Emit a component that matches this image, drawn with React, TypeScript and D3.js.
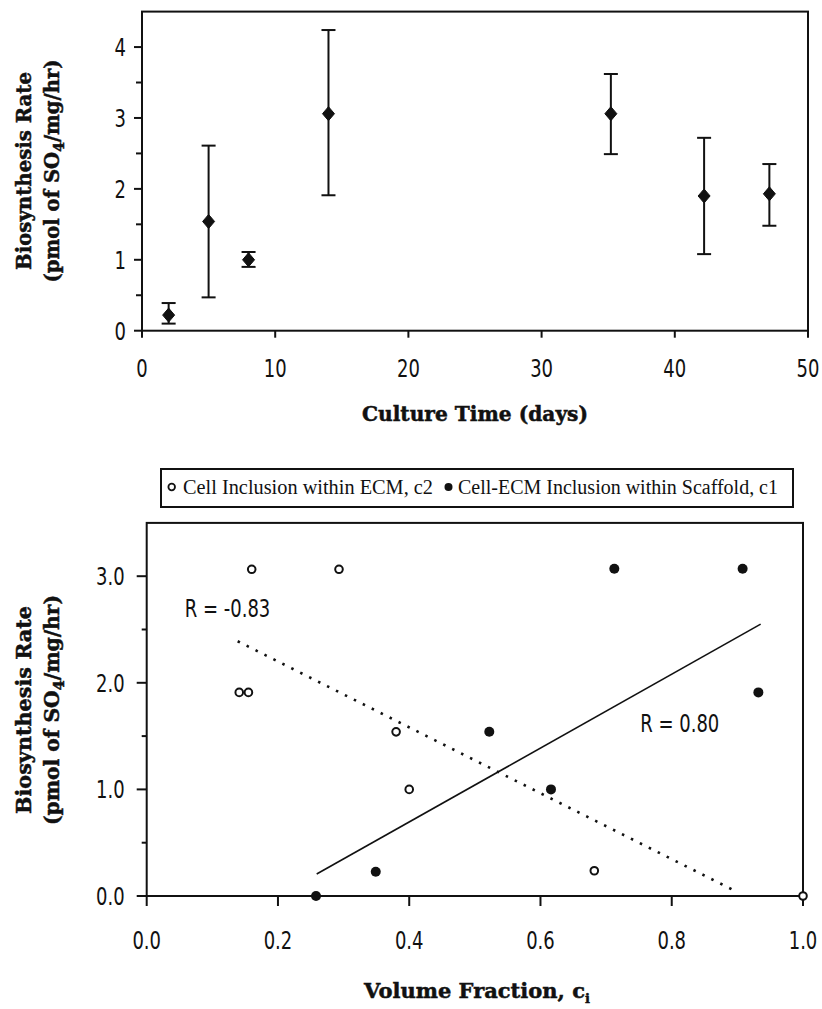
import React from "react";
import * as d3 from "d3";

// top panel: rate over culture time, mean with error bars
const cultureDays = [2, 5, 8, 14, 35.2, 42.2, 47.1];
const rateMean = [0.22, 1.54, 1.0, 3.06, 3.06, 1.9, 1.93];
const rateLow = [0.1, 0.47, 0.9, 1.91, 2.49, 1.08, 1.48];
const rateHigh = [0.39, 2.61, 1.11, 4.24, 3.62, 2.72, 2.35];
const dayTicks = [0, 10, 20, 30, 40, 50];
const rateTicks = [0, 1, 2, 3, 4];

// bottom panel: rate vs volume fraction
const ecmFraction = [0.141, 0.155, 0.16, 0.293, 0.38, 0.4, 0.682, 1.0];
const ecmRate = [1.91, 1.91, 3.065, 3.065, 1.54, 1.0, 0.237, 0];
const scaffoldFraction = [0.258, 0.349, 0.522, 0.616, 0.7125, 0.908, 0.932];
const scaffoldRate = [0, 0.228, 1.54, 1.0, 3.07, 3.07, 1.91];
const ecmFitX = [0.1386, 0.899];
const ecmFitY = [2.39, 0.04];
const scaffoldFitX = [0.259, 0.9355];
const scaffoldFitY = [0.206, 2.55];
const fractionTicks = [0, 0.2, 0.4, 0.6, 0.8, 1.0];
const rate2Ticks = [0, 1, 2, 3];
const legendLabels = ["Cell Inclusion within ECM, c2", "Cell-ECM Inclusion within Scaffold, c1"];
const rLabels = ["R = -0.83", "R = 0.80"];

const tickFont = "'DejaVu Sans', 'Liberation Sans', sans-serif";
const titleFont = "'DejaVu Serif', 'Liberation Serif', serif";
const legendFont = "'Liberation Serif', 'DejaVu Serif', serif";

// narrow text: the original uses a condensed face, so squeeze horizontally
const Narrow = ({ x, y, anchor, children }: { x: number; y: number; anchor?: string; children: React.ReactNode }) => (
  <g transform={`translate(${x},${y}) scale(0.72,1)`}>
    <text x={0} y={0} dy="0.36em" textAnchor={anchor || "middle"} fontFamily={tickFont} fontSize={25} fill="#111">{children}</text>
  </g>
);

const YTitle = ({ cx, cy, len1, len2 }: { cx: number; cy: number; len1: number; len2: number }) => (
  <g transform={`translate(${cx},${cy}) rotate(-90)`} fontFamily={titleFont} fontWeight="bold" fontSize={21} textAnchor="middle" fill="#111" stroke="#111" strokeWidth={0.5}>
    <text x={0} y={-9} textLength={len1} lengthAdjust="spacingAndGlyphs">Biosynthesis Rate</text>
    <text x={0} y={19} textLength={len2} lengthAdjust="spacingAndGlyphs">
      (pmol of SO<tspan fontSize={15} dy={5}>4</tspan><tspan dy={-5}>/mg/hr)</tspan>
    </text>
  </g>
);

const TopChart = () => {
  const x = d3.scaleLinear().domain([0, 50]).range([142, 808]);
  const y = d3.scaleLinear().domain([0, 4.5]).range([330.7, 11.6]);
  const minor = d3.range(0.5, 4.5, 1);
  return (
    <g>
      <rect x={x(0)} y={y(4.5)} width={x(50) - x(0)} height={y(0) - y(4.5)} fill="none" stroke="#111" strokeWidth={2} />
      {rateTicks.map((t) => (
        <g key={"yt" + t}>
          <line x1={x(0) - 8} x2={x(0)} y1={y(t)} y2={y(t)} stroke="#111" strokeWidth={2} />
          <Narrow x={x(0) - 16} y={y(t)} anchor="end">{t}</Narrow>
        </g>
      ))}
      {minor.map((t) => (
        <line key={"ym" + t} x1={x(0) - 6} x2={x(0)} y1={y(t)} y2={y(t)} stroke="#111" strokeWidth={2} />
      ))}
      {dayTicks.map((t) => (
        <g key={"xt" + t}>
          <line x1={x(t)} x2={x(t)} y1={y(0)} y2={y(0) + 7} stroke="#111" strokeWidth={2} />
          <Narrow x={x(t)} y={y(0) + 37}>{t}</Narrow>
        </g>
      ))}
      {cultureDays.map((d, i) => {
        const cx = x(d);
        const cy = y(rateMean[i]);
        return (
          <g key={"p" + i} stroke="#111" strokeWidth={2}>
            <line x1={cx} x2={cx} y1={y(rateLow[i])} y2={y(rateHigh[i])} />
            <line x1={cx - 7} x2={cx + 7} y1={y(rateLow[i])} y2={y(rateLow[i])} />
            <line x1={cx - 7} x2={cx + 7} y1={y(rateHigh[i])} y2={y(rateHigh[i])} />
            <path d={`M${cx},${cy - 7}L${cx + 6},${cy}L${cx},${cy + 7}L${cx - 6},${cy}Z`} fill="#111" strokeWidth={1} />
          </g>
        );
      })}
      <text x={475} y={421} textAnchor="middle" fontFamily={titleFont} fontWeight="bold" fontSize={21} textLength={226} lengthAdjust="spacingAndGlyphs" fill="#111" stroke="#111" strokeWidth={0.5}>Culture Time (days)</text>
      <YTitle cx={40} cy={171} len1={198} len2={223} />
    </g>
  );
};

const BottomChart = () => {
  const x = d3.scaleLinear().domain([0, 1]).range([146.7, 803]);
  const y = d3.scaleLinear().domain([0, 3.5]).range([896, 522.9]);
  const minor = d3.range(0.5, 3.5, 1);
  const fitLine = d3.line<number>().x((d) => x(d));
  return (
    <g>
      <rect x={161} y={469} width={632} height={38} fill="#fff" stroke="#111" strokeWidth={2} />
      <circle cx={171.7} cy={487} r={3.3} fill="#fff" stroke="#111" strokeWidth={1.8} />
      <text x={183} y={487} dy="0.33em" fontFamily={legendFont} fontSize={20} textLength={250} lengthAdjust="spacingAndGlyphs" fill="#111">{legendLabels[0]}</text>
      <circle cx={448.5} cy={487} r={4} fill="#111" />
      <text x={458} y={487} dy="0.33em" fontFamily={legendFont} fontSize={20} textLength={320} lengthAdjust="spacingAndGlyphs" fill="#111">{legendLabels[1]}</text>

      <rect x={x(0)} y={y(3.5)} width={x(1) - x(0)} height={y(0) - y(3.5)} fill="none" stroke="#111" strokeWidth={2} />
      {rate2Ticks.map((t) => (
        <g key={"yt" + t}>
          <line x1={x(0) - 10} x2={x(0)} y1={y(t)} y2={y(t)} stroke="#111" strokeWidth={2} />
          <Narrow x={x(0) - 22} y={y(t)} anchor="end">{t.toFixed(1)}</Narrow>
        </g>
      ))}
      {minor.map((t) => (
        <line key={"ym" + t} x1={x(0) - 5} x2={x(0)} y1={y(t)} y2={y(t)} stroke="#111" strokeWidth={2} />
      ))}
      {fractionTicks.map((t) => (
        <g key={"xt" + t}>
          <line x1={x(t)} x2={x(t)} y1={y(0)} y2={y(0) + 10} stroke="#111" strokeWidth={2} />
          <Narrow x={x(t)} y={y(0) + 44}>{t.toFixed(1)}</Narrow>
        </g>
      ))}

      <path d={fitLine.y((_, i) => y(ecmFitY[i]))(ecmFitX) || ""} fill="none" stroke="#111" strokeWidth={2.6} strokeDasharray="2.5 7.5" />
      <path d={fitLine.y((_, i) => y(scaffoldFitY[i]))(scaffoldFitX) || ""} fill="none" stroke="#111" strokeWidth={1.6} />

      {ecmFraction.map((f, i) => (
        <circle key={"o" + i} cx={x(f)} cy={y(ecmRate[i])} r={3.8} fill="#fff" stroke="#111" strokeWidth={2} />
      ))}
      {scaffoldFraction.map((f, i) => (
        <circle key={"f" + i} cx={x(f)} cy={y(scaffoldRate[i])} r={5} fill="#111" />
      ))}

      <Narrow x={x(0.058)} y={y(2.7)} anchor="start">{rLabels[0]}</Narrow>
      <Narrow x={x(0.752)} y={y(1.62)} anchor="start">{rLabels[1]}</Narrow>

      <text x={477} y={998} textAnchor="middle" fontFamily={titleFont} fontWeight="bold" fontSize={21} fill="#111" stroke="#111" strokeWidth={0.5}>
        Volume Fraction, c<tspan fontSize={13} dy={5}>i</tspan>
      </text>
      <YTitle cx={40} cy={710} len1={208} len2={230} />
    </g>
  );
};

export default function App() {
  return (
    <svg width={822} height={1009} style={{ position: "absolute", left: 0, top: 0, background: "#fff" }}>
      <rect width={822} height={1009} fill="#fff" />
      <TopChart />
      <BottomChart />
    </svg>
  );
}
